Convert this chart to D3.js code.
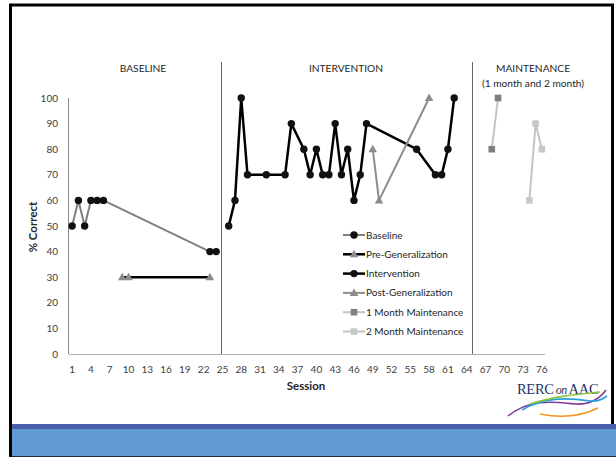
<!DOCTYPE html>
<html>
<head>
<meta charset="utf-8">
<script src="https://cdn.jsdelivr.net/npm/d3@7"></script>
<style>
  body { margin: 0; background: #fff; }
  svg { display: block; font-family: Lato, "Open Sans", sans-serif; }
</style>
</head>
<body>
<div id="chart"></div>
<script>
// sessions on the category axis
var sessions = d3.range(1, 77);
var xTickLabels = d3.range(1, 77, 3);
var yTicks = [0, 10, 20, 30, 40, 50, 60, 70, 80, 90, 100];

// series: [session, % correct]
var baseline = [[1, 50], [2, 60], [3, 50], [4, 60], [5, 60], [6, 60], [23, 40], [24, 40]];
var preGen = [[9, 30], [10, 30], [23, 30]];
var intervention = [[26, 50], [27, 60], [28, 100], [29, 70], [32, 70], [35, 70], [36, 90], [38, 80],
  [39, 70], [40, 80], [41, 70], [42, 70], [43, 90], [44, 70], [45, 80], [46, 60], [47, 70], [48, 90],
  [56, 80], [59, 70], [60, 70], [61, 80], [62, 100]];
var postGen = [[49, 80], [50, 60], [58, 100]];
var month1 = [[68, 80], [69, 100]];
var month2 = [[74, 60], [75, 90], [76, 80]];

var phaseLines = [25, 65];

var series = [
  { name: "Baseline", data: baseline, line: "#7f7f7f", lw: 2, marker: "circle", fill: "#111" },
  { name: "Pre-Generalization", data: preGen, line: "#000", lw: 2.5, marker: "triangle", fill: "#8c8c8c" },
  { name: "Intervention", data: intervention, line: "#000", lw: 2.5, marker: "circle", fill: "#111" },
  { name: "Post-Generalization", data: postGen, line: "#8c8c8c", lw: 2, marker: "triangle", fill: "#8c8c8c" },
  { name: "1 Month Maintenance", data: month1, line: "#c4c4c4", lw: 2, marker: "square", fill: "#7f7f7f" },
  { name: "2 Month Maintenance", data: month2, line: "#c4c4c4", lw: 2, marker: "square", fill: "#c8c8c8" }
];

var W = 616, H = 457;
var svg = d3.select("#chart").append("svg").attr("width", W).attr("height", H);

// slide frame and footer
svg.append("rect").attr("x", 10.5).attr("y", 5).attr("width", 602).attr("height", 460)
  .attr("fill", "#fff").attr("stroke", "#000").attr("stroke-width", 3);
svg.append("rect").attr("x", 9).attr("y", 424).attr("width", 607).attr("height", 5).attr("fill", "#4c5fab");
svg.append("rect").attr("x", 12).attr("y", 429).attr("width", 604).attr("height", 27).attr("fill", "#5f9bd0");
svg.append("rect").attr("x", 9).attr("y", 456).attr("width", 607).attr("height", 1).attr("fill", "#1d2b3a");
svg.append("rect").attr("x", 9).attr("y", 5).attr("width", 3).attr("height", 452).attr("fill", "#000");

var x = d3.scalePoint().domain(sessions).range([69, 545]).padding(0.5);
var y = d3.scaleLinear().domain([0, 100]).range([354, 98]);

// axes
svg.append("line").attr("x1", 69).attr("x2", 545).attr("y1", 354.5).attr("y2", 354.5)
  .attr("stroke", "#b0b0b0").attr("stroke-width", 1.2);
svg.append("line").attr("x1", 68.5).attr("x2", 68.5).attr("y1", 98).attr("y2", 354)
  .attr("stroke", "#8a8a8a").attr("stroke-width", 1);

svg.append("g").selectAll("text").data(yTicks).join("text")
  .attr("x", 58).attr("y", function(d) { return y(d); }).attr("dy", "0.35em")
  .attr("text-anchor", "end").attr("font-size", 10).attr("fill", "#404040")
  .text(function(d) { return d; });

svg.append("g").selectAll("text").data(xTickLabels).join("text")
  .attr("x", function(d) { return x(d); }).attr("y", 369).attr("dy", "0.35em")
  .attr("text-anchor", "middle").attr("font-size", 10).attr("fill", "#404040")
  .text(function(d) { return d; });

// phase change lines
svg.append("g").selectAll("line").data(phaseLines).join("line")
  .attr("x1", function(d) { return Math.round(x(d)) - 0.5; })
  .attr("x2", function(d) { return Math.round(x(d)) - 0.5; })
  .attr("y1", 62).attr("y2", 354)
  .attr("stroke", "#6a6a6a").attr("stroke-width", 1);

// titles
var titleStyle = function(sel) {
  sel.attr("text-anchor", "middle").attr("font-size", 10.2).attr("fill", "#262626");
};
svg.append("text").attr("x", 143).attr("y", 72).text("BASELINE").call(titleStyle);
svg.append("text").attr("x", 346).attr("y", 72).text("INTERVENTION").call(titleStyle);
svg.append("text").attr("x", 533).attr("y", 72).text("MAINTENANCE").call(titleStyle);
svg.append("text").attr("x", 533).attr("y", 87).text("(1 month and 2 month)").call(titleStyle);

svg.append("text").attr("transform", "translate(37,227) rotate(-90)")
  .attr("text-anchor", "middle").attr("font-size", 11.5).attr("font-weight", "bold")
  .attr("fill", "#262626").text("% Correct");
svg.append("text").attr("x", 306).attr("y", 390).attr("text-anchor", "middle")
  .attr("font-size", 11.5).attr("font-weight", "bold").attr("fill", "#262626").text("Session");

// markers
function drawMarker(g, type, cx, cy, fill) {
  if (type === "circle") {
    g.append("circle").attr("cx", cx).attr("cy", cy).attr("r", 3.7).attr("fill", fill);
  } else if (type === "triangle") {
    g.append("path").attr("d", d3.symbol().type(d3.symbolTriangle).size(32)())
      .attr("transform", "translate(" + cx + "," + (cy + 0.5) + ")").attr("fill", fill);
  } else {
    g.append("rect").attr("x", cx - 3.3).attr("y", cy - 3.3).attr("width", 6.6).attr("height", 6.6).attr("fill", fill);
  }
}

var line = d3.line()
  .x(function(d) { return x(d[0]); })
  .y(function(d) { return y(d[1]); });

var plot = svg.append("g");
series.forEach(function(s) {
  plot.append("path").datum(s.data).attr("d", line)
    .attr("fill", "none").attr("stroke", s.line).attr("stroke-width", s.lw)
    .attr("stroke-linejoin", "round");
  var mg = plot.append("g");
  s.data.forEach(function(d) { drawMarker(mg, s.marker, x(d[0]), y(d[1]), s.fill); });
});

// legend
var legend = svg.append("g").attr("transform", "translate(343,235)");
series.forEach(function(s, i) {
  var g = legend.append("g").attr("transform", "translate(0," + (i * 19.3) + ")");
  g.append("line").attr("x1", 0).attr("x2", 22).attr("y1", 0).attr("y2", 0)
    .attr("stroke", s.line).attr("stroke-width", s.lw);
  drawMarker(g, s.marker, 11, 0, s.fill);
  g.append("text").attr("x", 23).attr("y", 0).attr("dy", "0.35em")
    .attr("font-size", 10).attr("fill", "#262626").text(s.name);
});

// RERC on AAC logo
var logo = svg.append("g");
logo.append("text").attr("x", 517).attr("y", 394)
  .attr("font-family", "'Liberation Serif', serif").attr("font-size", 14.5).attr("fill", "#1f3569")
  .attr("letter-spacing", -0.3)
  .html("RERC<tspan font-style='italic' font-size='12' dx='2'>on</tspan><tspan dx='1.5'>AAC</tspan>");
var swoosh = [
  { d: "M508,416 C530,398 555,402 575,404 C590,405 600,398 606,390", c: "#7e3f98" },
  { d: "M522,410 C545,396 570,398 590,401 C598,402 603,399 607,396", c: "#2a9fd8" },
  { d: "M530,404 C555,396 580,394 600,392", c: "#8dc63f" },
  { d: "M540,414 C560,418 580,417 598,408", c: "#f7941d" }
];
logo.selectAll("path").data(swoosh).join("path")
  .attr("d", function(d) { return d.d; }).attr("fill", "none")
  .attr("stroke", function(d) { return d.c; }).attr("stroke-width", 1.6);
</script>
</body>
</html>
